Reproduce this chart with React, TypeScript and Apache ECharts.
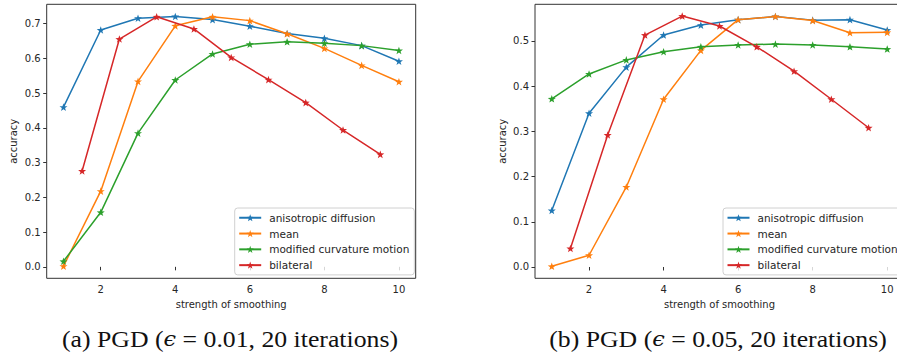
import React, { useEffect, useRef } from "react";
import * as echarts from "echarts";

const seriesNames = ["anisotropic diffusion", "mean", "modified curvature motion", "bilateral"];
const seriesColors = ["#1f77b4", "#ff7f0e", "#2ca02c", "#d62728"];

const strengths = [1, 2, 3, 4, 5, 6, 7, 8, 9, 10];
const bilateralStrengths = [1.5, 2.5, 3.5, 4.5, 5.5, 6.5, 7.5, 8.5, 9.5];

// (a) PGD eps = 0.01
const aAniso = [0.46, 0.682, 0.716, 0.721, 0.712, 0.693, 0.672, 0.658, 0.637, 0.592];
const aMean = [0.002, 0.218, 0.534, 0.694, 0.72, 0.709, 0.671, 0.629, 0.58, 0.533];
const aCurv = [0.016, 0.157, 0.385, 0.538, 0.613, 0.641, 0.648, 0.644, 0.637, 0.623];
const aBilat = [0.276, 0.656, 0.72, 0.685, 0.603, 0.539, 0.473, 0.394, 0.324];

// (b) PGD eps = 0.05
const bAniso = [0.125, 0.34, 0.442, 0.513, 0.535, 0.547, 0.554, 0.546, 0.547, 0.524];
const bMean = [0.0015, 0.026, 0.177, 0.371, 0.479, 0.547, 0.554, 0.545, 0.518, 0.519];
const bCurv = [0.372, 0.427, 0.458, 0.476, 0.487, 0.491, 0.493, 0.491, 0.487, 0.482];
const bBilat = [0.041, 0.292, 0.513, 0.555, 0.533, 0.487, 0.433, 0.371, 0.308];

const xTicks = [2, 4, 6, 8, 10];
const yTicksA = [0, 0.1, 0.2, 0.3, 0.4, 0.5, 0.6, 0.7];
const yTicksB = [0, 0.1, 0.2, 0.3, 0.4, 0.5];

const captions = ["(a) PGD ({e|ϵ} = 0.01, 20 iterations)", "(b) PGD ({e|ϵ} = 0.05, 20 iterations)"];

const STAR =
  "path://M0,-10L2.35,-3.24L9.51,-3.09L3.8,1.24L5.88,8.09L0,4L-5.88,8.09L-3.8,1.24L-9.51,-3.09L-2.35,-3.24Z";

const FONT = "DejaVu Sans";
const TXT = "#262626";
const FRAME = "#333333";

function zip(xs: number[], ys: number[]) {
  return xs.map((x, i) => [x, ys[i]]);
}

export default function App() {
  const ref = useRef<HTMLDivElement>(null);
  useEffect(() => {
    if (!ref.current) return;
    const chart = echarts.init(ref.current, undefined, { renderer: "svg" });

    const panels = [
      { ys: [aAniso, aMean, aCurv, aBilat], yTicks: yTicksA, yMin: -0.033, yMax: 0.756, left: 46.7 },
      { ys: [bAniso, bMean, bCurv, bBilat], yTicks: yTicksB, yMin: -0.025, yMax: 0.581, left: 535 },
    ];

    const grids = panels.map((p) => ({
      left: p.left,
      top: 4.3,
      width: 369,
      height: 274,
      show: true,
      borderColor: FRAME,
      borderWidth: 1,
      backgroundColor: "transparent",
      containLabel: false,
      outerBoundsMode: "none",
    }));

    const xAxes = panels.map((_, i) => ({
      type: "value",
      gridIndex: i,
      min: 0.55,
      max: 10.45,
      name: "strength of smoothing",
      nameLocation: "middle",
      nameGap: 20,
      nameTextStyle: { fontFamily: FONT, fontSize: 10, color: TXT },
      axisLine: { show: false },
      splitLine: { show: false },
      axisTick: { show: true, inside: false, length: 3.5, lineStyle: { color: FRAME }, customValues: xTicks },
      axisLabel: {
        fontFamily: FONT,
        fontSize: 10,
        color: TXT,
        margin: 6,
        customValues: xTicks,
        formatter: (v: number) => String(v),
      },
    }));

    const yAxes = panels.map((p, i) => ({
      type: "value",
      gridIndex: i,
      min: p.yMin,
      max: p.yMax,
      name: "accuracy",
      nameLocation: "middle",
      nameGap: 28,
      nameRotate: 90,
      nameTextStyle: { fontFamily: FONT, fontSize: 10, color: TXT },
      axisLine: { show: false },
      splitLine: { show: false },
      axisTick: { show: true, inside: false, length: 3.5, lineStyle: { color: FRAME }, customValues: p.yTicks },
      axisLabel: {
        fontFamily: FONT,
        fontSize: 10,
        color: TXT,
        margin: 6,
        customValues: p.yTicks,
        formatter: (v: number) => v.toFixed(1),
      },
    }));

    const series: any[] = [];
    panels.forEach((p, gi) => {
      p.ys.forEach((ys, si) => {
        const xs = si === 3 ? bilateralStrengths : strengths;
        series.push({
          type: "line",
          name: seriesNames[si],
          xAxisIndex: gi,
          yAxisIndex: gi,
          data: zip(xs, ys),
          symbol: STAR,
          symbolSize: 8,
          symbolKeepAspect: true,
          showSymbol: true,
          lineStyle: { width: 1.5, color: seriesColors[si] },
          itemStyle: { color: seriesColors[si], borderWidth: 0 },
          emphasis: { disabled: true },
          z: 2 + si,
        });
      });
    });

    const legends = panels.map((p) => ({
      orient: "vertical",
      left: p.left + 188,
      top: 208,
      data: seriesNames,
      itemWidth: 22,
      itemHeight: 9,
      itemGap: 4.3,
      padding: [4, 5, 4, 3.5],
      borderColor: "#d0d0d0",
      borderWidth: 1,
      borderRadius: 3,
      backgroundColor: "rgba(255,255,255,0.8)",
      textStyle: { fontFamily: FONT, fontSize: 10.5, color: TXT, padding: [0, 0, 0, 3], lineHeight: 11.5 },
      selectedMode: false,
    }));

    const graphic = captions.map((c, i) => ({
      type: "text",
      x: i === 0 ? 230 : 718,
      y: 339,
      scaleX: 1.12,
      style: {
        text: c,
        fontFamily: '"Liberation Serif", "DejaVu Serif", serif',
        fontSize: 23,
        fill: "#111",
        textAlign: "center",
        textVerticalAlign: "middle",
        rich: {
          e: { fontStyle: "italic", fontFamily: '"DejaVu Serif", serif', fontSize: 20, fill: "#111" },
        },
      },
    }));

    chart.setOption({
      animation: false,
      backgroundColor: "#ffffff",
      grid: grids,
      xAxis: xAxes,
      yAxis: yAxes,
      legend: legends,
      series,
      graphic,
    });
    return () => chart.dispose();
  }, []);
  return (
    <div
      ref={ref}
      style={{ position: "fixed", left: 0, top: 0, width: 897, height: 354, background: "#fff" }}
    />
  );
}
